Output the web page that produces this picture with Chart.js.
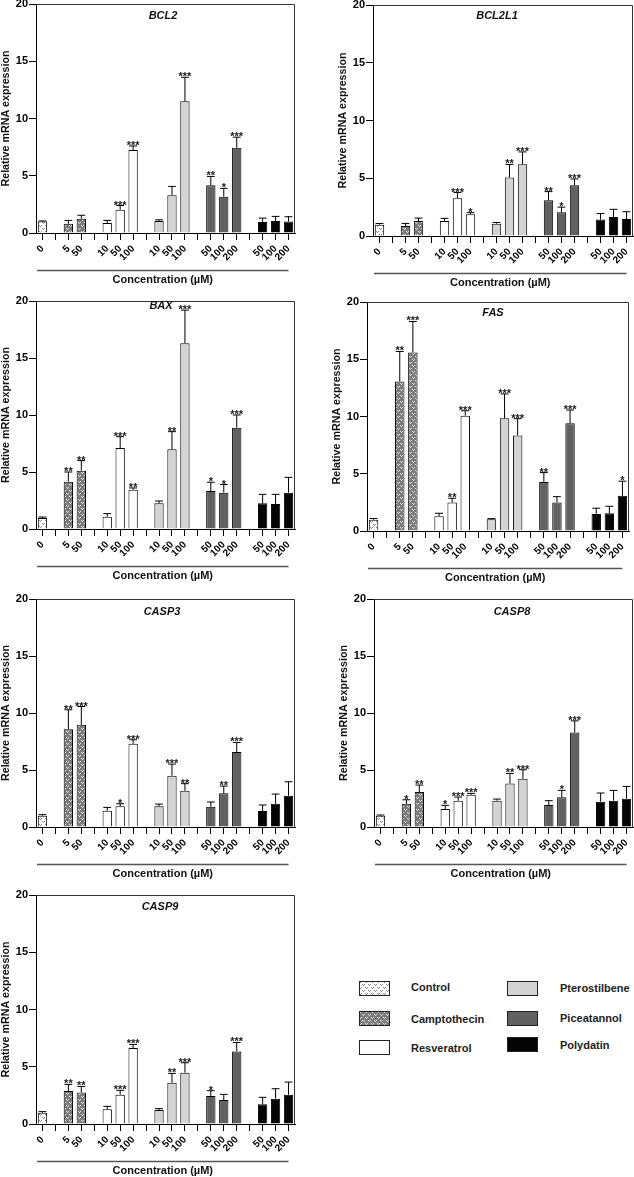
<!DOCTYPE html>
<html>
<head>
<meta charset="utf-8">
<script src="https://cdn.jsdelivr.net/npm/chart.js@4.4.0/dist/chart.umd.min.js"></script>
<style>
  html, body { margin: 0; padding: 0; background: #fff; overflow: hidden; }
  body { width: 634px; height: 1177px; position: relative; font-family: 'Liberation Sans', Arial, sans-serif; }
  canvas.panel { position: absolute; }
  .sw { position: absolute; box-sizing: border-box; }
  .lg { position: absolute; font-weight: bold; font-size: 11px; line-height: 14px; color: #222; white-space: nowrap; }
</style>
</head>
<body>
<script>
// x slots: bars plus empty slots between treatment groups
const slotLabels = ['0', '', '5', '50', '', '10', '50', '100', '', '10', '50', '100', '', '50', '100', '200', '', '50', '100', '200'];
const slotGroup  = [0, -1, 1, 1, -1, 2, 2, 2, -1, 3, 3, 3, -1, 4, 4, 4, -1, 5, 5, 5];
const groupNames = ['Control', 'Camptothecin', 'Resveratrol', 'Pterostilbene', 'Piceatannol', 'Polydatin'];
const yTicks = [0, 5, 10, 15, 20];

// values per gene (15 bars: control, campto x2, res x3, ptero x3, pice x3, poly x3)
const bcl2Mean = [1.0, 0.8, 1.25, 0.87, 2.03, 7.24, 1.05, 3.3, 11.5, 4.16, 3.17, 7.44, 0.96, 1.05, 1.0];
const bcl2Err  = [0.05, 0.3, 0.3, 0.23, 0.37, 0.36, 0.1, 0.77, 2.1, 0.78, 0.73, 0.93, 0.34, 0.4, 0.42];
const bcl2Sig  = ['', '', '', '', '***', '***', '', '', '***', '**', '*', '***', '', '', ''];

const bcl2l1Mean = [0.98, 0.87, 1.3, 1.3, 3.27, 1.88, 1.07, 5.06, 6.21, 3.09, 2.05, 4.39, 1.42, 1.65, 1.47];
const bcl2l1Err  = [0.1, 0.22, 0.25, 0.23, 0.49, 0.14, 0.1, 1.14, 1.07, 0.75, 0.45, 0.55, 0.52, 0.66, 0.63];
const bcl2l1Sig  = ['', '', '', '', '***', '*', '', '**', '***', '**', '*', '***', '', '', ''];

const baxMean = [0.97, 4.15, 5.12, 1.08, 7.1, 3.45, 2.25, 6.99, 16.3, 3.33, 3.19, 8.89, 2.25, 2.19, 3.19];
const baxErr  = [0.08, 0.85, 0.88, 0.27, 1.0, 0.15, 0.21, 1.55, 2.9, 0.77, 0.71, 1.11, 0.79, 0.85, 1.34];
const baxSig  = ['', '**', '**', '', '***', '**', '', '**', '***', '*', '*', '***', '', '', ''];

const fasMean = [0.99, 13.05, 15.6, 1.28, 2.48, 10.07, 1.02, 9.84, 8.35, 4.29, 2.48, 9.4, 1.49, 1.55, 3.07];
const fasErr  = [0.1, 2.63, 2.7, 0.27, 0.38, 0.43, 0.06, 2.13, 1.46, 0.81, 0.52, 1.17, 0.5, 0.61, 1.28];
const fasSig  = ['', '**', '***', '', '**', '***', '', '***', '***', '**', '', '***', '', '', '*'];

const casp3Mean = [0.99, 8.58, 8.96, 1.43, 1.81, 7.3, 1.81, 4.5, 3.18, 1.78, 2.95, 6.57, 1.4, 2.04, 2.74];
const casp3Err  = [0.09, 1.7, 1.61, 0.29, 0.23, 0.35, 0.2, 1.02, 0.62, 0.41, 0.64, 0.85, 0.53, 0.85, 1.23];
const casp3Sig  = ['', '**', '***', '', '*', '***', '', '***', '**', '', '**', '***', '', '', ''];

const casp8Mean = [0.99, 2.04, 3.07, 1.58, 2.31, 2.83, 2.31, 3.82, 4.23, 1.93, 2.6, 8.29, 2.22, 2.31, 2.48];
const casp8Err  = [0.06, 0.35, 0.61, 0.32, 0.32, 0.12, 0.14, 0.88, 0.79, 0.38, 0.61, 1.02, 0.76, 0.9, 1.08];
const casp8Sig  = ['', '*', '**', '*', '***', '***', '', '**', '***', '', '*', '***', '', '', ''];

const casp9Mean = [0.99, 2.88, 2.76, 1.28, 2.56, 6.63, 1.22, 3.6, 4.48, 2.44, 2.09, 6.34, 1.72, 2.21, 2.56];
const casp9Err  = [0.09, 0.58, 0.52, 0.26, 0.38, 0.32, 0.12, 0.82, 0.87, 0.47, 0.5, 0.78, 0.61, 0.87, 1.1];
const casp9Sig  = ['', '**', '**', '', '***', '***', '', '**', '***', '*', '', '***', '', '', ''];

// panel placement: plot box [left, top, right, bottom] in page pixels, title position
const panels = [
  { gene: 'BCL2',   mean: bcl2Mean,   err: bcl2Err,   sig: bcl2Sig,   box: [36, 4, 295, 233],   title: [163, 16] },
  { gene: 'BCL2L1', mean: bcl2l1Mean, err: bcl2l1Err, sig: bcl2l1Sig, box: [373, 5, 633, 236],  title: [497, 16] },
  { gene: 'BAX',    mean: baxMean,    err: baxErr,    sig: baxSig,    box: [36, 301, 295, 529], title: [161, 306] },
  { gene: 'FAS',    mean: fasMean,    err: fasErr,    sig: fasSig,    box: [367, 302, 629, 531], title: [493, 313] },
  { gene: 'CASP3',  mean: casp3Mean,  err: casp3Err,  sig: casp3Sig,  box: [36, 599, 295, 827], title: [162, 612] },
  { gene: 'CASP8',  mean: casp8Mean,  err: casp8Err,  sig: casp8Sig,  box: [374, 599, 633, 827], title: [512, 612] },
  { gene: 'CASP9',  mean: casp9Mean,  err: casp9Err,  sig: casp9Sig,  box: [36, 895, 295, 1124], title: [160, 907] }
];

const FONT = "'Liberation Sans', Arial, sans-serif";
Chart.defaults.font.family = FONT;

function makePattern(bg, fg) {
  const c = document.createElement('canvas');
  c.width = 6; c.height = 6;
  const g = c.getContext('2d');
  g.fillStyle = bg; g.fillRect(0, 0, 6, 6);
  g.fillStyle = fg;
  // little chevron specks
  g.fillRect(0, 0, 1, 1); g.fillRect(2, 0, 1, 1); g.fillRect(1, 1, 1, 1);
  g.fillRect(3, 3, 1, 1); g.fillRect(5, 3, 1, 1); g.fillRect(4, 4, 1, 1);
  return g.createPattern(c, 'repeat');
}

const fills = [
  makePattern('#ffffff', '#8a8a8a'),
  makePattern('#7c7c7c', '#dcdcdc'),
  '#ffffff',
  '#d3d3d3',
  '#616161',
  '#050505'
];

function toSlots(values) {
  let k = 0;
  return slotGroup.map(g => (g < 0 ? null : values[k++]));
}

function overlay(p, errs, sigs) {
  return {
    id: 'overlay' + p.gene,
    afterDraw(chart) {
      const ctx = chart.ctx;
      const area = chart.chartArea;
      const ys = chart.scales.y;
      const xs = chart.scales.x;
      const data = chart.data.datasets[0].data;
      const meta = chart.getDatasetMeta(0);
      const cl = chart.canvas.offsetLeft, ct = chart.canvas.offsetTop;
      ctx.save();
      // frame top and right
      ctx.strokeStyle = '#333';
      ctx.lineWidth = 1;
      ctx.beginPath();
      ctx.moveTo(area.left, area.top + 0.5);
      ctx.lineTo(area.right - 0.5, area.top + 0.5);
      ctx.lineTo(area.right - 0.5, area.bottom);
      ctx.stroke();
      // error bars and stars
      ctx.strokeStyle = '#000';
      ctx.fillStyle = '#1a1a1a';
      ctx.font = 'bold 11px ' + FONT;
      ctx.textAlign = 'center';
      ctx.textBaseline = 'alphabetic';
      meta.data.forEach((bar, i) => {
        if (data[i] == null) return;
        const top = ys.getPixelForValue(data[i] + errs[i]);
        const half = bar.width * 0.42;
        ctx.beginPath();
        ctx.moveTo(bar.x, bar.y);
        ctx.lineTo(bar.x, top);
        ctx.moveTo(bar.x - half, top);
        ctx.lineTo(bar.x + half, top);
        ctx.stroke();
        if (sigs[i]) ctx.fillText(sigs[i], bar.x, top + 3);
      });
      // gene title
      ctx.fillStyle = '#111';
      ctx.font = 'italic bold 11px ' + FONT;
      ctx.textBaseline = 'middle';
      ctx.fillText(p.gene, p.title[0] - cl, p.title[1] - ct);
      // y title
      ctx.font = 'bold 10.7px ' + FONT;
      ctx.save();
      ctx.translate(area.left - 30, (area.top + area.bottom) / 2);
      ctx.rotate(-Math.PI / 2);
      ctx.fillText('Relative mRNA expression', 0, 0);
      ctx.restore();
      // x title with rule above
      const x0 = area.left + 1;
      const x1 = xs.getPixelForTick(slotLabels.length - 1);
      ctx.strokeStyle = '#555';
      ctx.lineWidth = 1.5;
      ctx.beginPath();
      ctx.moveTo(x0, area.bottom + 37.5);
      ctx.lineTo(x1, area.bottom + 37.5);
      ctx.stroke();
      ctx.font = 'bold 11px ' + FONT;
      ctx.fillText('Concentration (\u00b5M)', (x0 + x1) / 2, area.bottom + 47);
      ctx.restore();
    }
  };
}

panels.forEach(p => {
  const [L, T, R, B] = p.box;
  const cl = L - 36;
  const ct = Math.max(0, T - 6);
  const cw = R + 3 - cl;
  const ch = B + 58 - ct;
  const cv = document.createElement('canvas');
  cv.className = 'panel';
  cv.width = cw; cv.height = ch;
  cv.style.left = cl + 'px';
  cv.style.top = ct + 'px';
  document.body.appendChild(cv);

  new Chart(cv, {
    type: 'bar',
    data: {
      labels: slotLabels,
      datasets: [{
        data: toSlots(p.mean),
        backgroundColor: c => fills[slotGroup[c.dataIndex]] || 'transparent',
        borderColor: '#000',
        borderWidth: 1,
        barPercentage: 0.72,
        categoryPercentage: 1
      }]
    },
    options: {
      responsive: false,
      animation: false,
      layout: { padding: { left: 0, top: T - ct, right: cl + cw - R, bottom: 0 } },
      plugins: { legend: { display: false }, tooltip: { enabled: false } },
      scales: {
        x: {
          offset: true,
          grid: { display: true, drawOnChartArea: false, drawTicks: true, tickLength: 7, offset: false, color: '#000' },
          border: { display: true, color: '#000', width: 1 },
          ticks: { autoSkip: false, minRotation: 45, maxRotation: 45, padding: 3, color: '#000', font: { size: 10, weight: 'bold' } },
          afterFit(s) { s.height = 58; s.paddingLeft = 0; s.paddingRight = 0; }
        },
        y: {
          min: yTicks[0],
          max: yTicks[yTicks.length - 1],
          afterBuildTicks(s) { s.ticks = yTicks.map(v => ({ value: v })); },
          ticks: { padding: 1, color: '#000', font: { size: 11, weight: 'bold' } },
          grid: { drawOnChartArea: false, tickLength: 7, color: '#000' },
          border: { color: '#000', width: 1 },
          afterFit(s) { s.width = 36; s.paddingTop = 0; s.paddingBottom = 0; }
        }
      }
    },
    plugins: [overlay(p, toSlots(p.err), toSlots(p.sig))]
  });
});

// legend
const legendPos = [
  { sx: 359, sy: 981, tx: 411, ty: 987 },
  { sx: 359, sy: 1011, tx: 411, ty: 1019 },
  { sx: 359, sy: 1040, tx: 411, ty: 1048 },
  { sx: 507, sy: 981, tx: 560, ty: 988 },
  { sx: 507, sy: 1011, tx: 560, ty: 1018 },
  { sx: 507, sy: 1037, tx: 560, ty: 1045 }
];
legendPos.forEach((pos, g) => {
  const sw = document.createElement('canvas');
  sw.className = 'sw';
  sw.width = 31; sw.height = 15;
  sw.style.left = pos.sx + 'px';
  sw.style.top = pos.sy + 'px';
  const c = sw.getContext('2d');
  c.fillStyle = fills[g];
  c.fillRect(0, 0, 31, 15);
  c.strokeStyle = '#222';
  c.lineWidth = 1;
  c.strokeRect(0.5, 0.5, 30, 14);
  document.body.appendChild(sw);
  const t = document.createElement('div');
  t.className = 'lg';
  t.textContent = groupNames[g];
  t.style.left = pos.tx + 'px';
  t.style.top = (pos.ty - 7) + 'px';
  document.body.appendChild(t);
});
</script>
</body>
</html>
